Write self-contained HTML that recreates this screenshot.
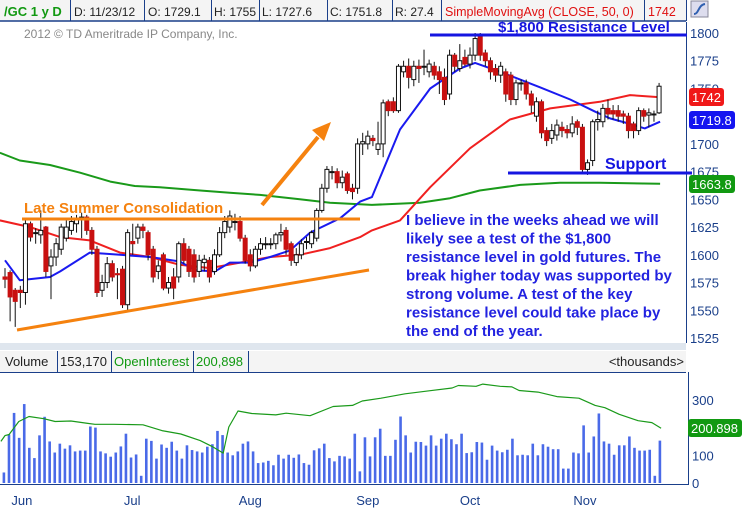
<!DOCTYPE html>
<html><head><meta charset="utf-8"><style>
body{margin:0;background:#fff;}
svg{display:block;font-family:"Liberation Sans",sans-serif;}
</style></head><body>
<svg id="c" width="744" height="512" viewBox="0 0 744 512">
<rect x="0" y="0" width="744" height="512" fill="#fff"/>
<g>
<rect x="0" y="0" width="686" height="21" fill="#f4f4f4"/>
<line x1="0" y1="21" x2="686" y2="21" stroke="#1a3f8a" stroke-width="1.5"/>
<g stroke="#1a3f8a" stroke-width="1">
<line x1="70.5" y1="0" x2="70.5" y2="21"/><line x1="144.5" y1="0" x2="144.5" y2="21"/><line x1="211.5" y1="0" x2="211.5" y2="21"/><line x1="259.5" y1="0" x2="259.5" y2="21"/><line x1="327.5" y1="0" x2="327.5" y2="21"/><line x1="392.5" y1="0" x2="392.5" y2="21"/><line x1="441.5" y1="0" x2="441.5" y2="21"/><line x1="644.5" y1="0" x2="644.5" y2="21"/><line x1="686.5" y1="0" x2="686.5" y2="21"/>
</g>
<text x="4" y="16" font-size="13" font-weight="bold" fill="#119911">/GC 1 y D</text>
<text x="74" y="16" font-size="12" fill="#222">D: 11/23/12</text>
<text x="148" y="16" font-size="12" fill="#222">O: 1729.1</text>
<text x="214" y="16" font-size="12" fill="#222">H: 1755</text>
<text x="262" y="16" font-size="12" fill="#222">L: 1727.6</text>
<text x="330" y="16" font-size="12" fill="#222">C: 1751.8</text>
<text x="395" y="16" font-size="12" fill="#222">R: 27.4</text>
<text x="445" y="16" font-size="12.5" fill="#e01010">SimpleMovingAvg (CLOSE, 50, 0)</text>
<text x="648" y="16" font-size="12.5" fill="#e01010">1742</text>
<g>
<rect x="691" y="1" width="17" height="16" fill="#dde" stroke="#889"/>
<path d="M694 14 C699 14 698 5 705 4" stroke="#3060b0" stroke-width="2" fill="none"/>
</g>
</g>
<text x="24" y="38" font-size="12" fill="#888">2012 © TD Ameritrade IP Company, Inc.</text>
<line x1="686.5" y1="22" x2="686.5" y2="343" stroke="#1a3f8a"/>
<g id="pticks"></g>
<g id="mas"></g>
<g id="candles"></g>
<g>
<line x1="22" y1="219" x2="360" y2="219" stroke="#f5820f" stroke-width="3"/>
<text x="24" y="213" font-size="15" font-weight="bold" fill="#f5820f">Late Summer Consolidation</text>
<line x1="17" y1="330" x2="369" y2="270" stroke="#f5820f" stroke-width="3"/>
<line x1="262" y1="205" x2="318" y2="137" stroke="#f5820f" stroke-width="4"/>
<polygon points="331,122 312,130 324,141" fill="#f5820f"/>
<line x1="430" y1="35" x2="687" y2="35" stroke="#1515e0" stroke-width="3"/>
<text x="498" y="32" font-size="15" font-weight="bold" fill="#1515e0">$1,800 Resistance Level</text>
<line x1="508" y1="173" x2="692" y2="173" stroke="#1515e0" stroke-width="3"/>
<text x="605" y="169" font-size="16" font-weight="bold" fill="#1515e0">Support</text>
<text font-size="15" font-weight="bold" fill="#2222e0">
<tspan x="406" y="225">I believe in the weeks ahead we will</tspan>
<tspan x="406" y="243.5">likely see a test of the $1,800</tspan>
<tspan x="406" y="262">resistance level in gold futures. The</tspan>
<tspan x="406" y="280.5">break higher today was supported by</tspan>
<tspan x="406" y="299">strong volume. A test of the key</tspan>
<tspan x="406" y="317.5">resistance level could take place by</tspan>
<tspan x="406" y="336">the end of the year.</tspan>
</text>
</g>
<g>
<rect x="689" y="88" width="35" height="18" rx="3" fill="#f01818"/>
<text x="692" y="102" font-size="13" fill="#fff">1742</text>
<rect x="689" y="111" width="46" height="18" rx="3" fill="#1414f0"/>
<text x="692" y="125" font-size="13" fill="#fff">1719.8</text>
<rect x="689" y="175" width="46" height="18" rx="3" fill="#119911"/>
<text x="692" y="189" font-size="13" fill="#fff">1663.8</text>
</g>
<rect x="0" y="343" width="686" height="7" fill="#dfe6ee"/>
<g>
<rect x="0" y="351" width="686" height="21" fill="#f4f4f4"/>
<line x1="0" y1="372.5" x2="686" y2="372.5" stroke="#1a3f8a"/>
<g stroke="#1a3f8a"><line x1="57.5" y1="351" x2="57.5" y2="372"/><line x1="111.5" y1="351" x2="111.5" y2="372"/><line x1="193.5" y1="351" x2="193.5" y2="372"/><line x1="248.5" y1="351" x2="248.5" y2="372"/></g>
<text x="5" y="366" font-size="13" fill="#222">Volume</text>
<text x="60" y="366" font-size="13" fill="#222">153,170</text>
<text x="114" y="366" font-size="13" fill="#119911">OpenInterest</text>
<text x="196" y="366" font-size="13" fill="#119911">200,898</text>
<text x="684" y="366" font-size="13" fill="#222" text-anchor="end">&lt;thousands&gt;</text>
</g>
<line x1="688.5" y1="372" x2="688.5" y2="485" stroke="#1a3f8a"/>
<line x1="0" y1="484.5" x2="688" y2="484.5" stroke="#1a3f8a"/>
<g id="vol"></g>
<rect x="688" y="419" width="54" height="18" rx="3" fill="#119911"/>
<text x="691" y="433" font-size="13" fill="#fff">200.898</text>
<g id="months"></g>
</svg>
<script>
const opens=[1580,1584,1568,1568,1566,1628,1620,1618,1625,1590,1598,1605,1615,1622,1628,1634,1634,1622,1605,1568,1575,1592,1583,1587,1555,1612,1615,1625,1620,1605,1585,1600,1570,1580,1580,1610,1605,1600,1585,1593,1595,1585,1600,1620,1625,1630,1630,1615,1600,1590,1605,1610,1610,1610,1618,1622,1610,1593,1600,1612,1610,1615,1640,1660,1675,1675,1665,1673,1660,1660,1700,1700,1705,1695,1700,1738,1738,1730,1765,1770,1758,1770,1770,1765,1770,1765,1760,1745,1780,1768,1778,1772,1780,1797,1782,1775,1768,1762,1765,1762,1740,1755,1755,1745,1725,1738,1712,1705,1708,1715,1713,1710,1720,1715,1677,1685,1720,1720,1732,1730,1730,1727,1725,1718,1712,1730,1726,1727,1728];
const closes=[1578,1562,1558,1566,1628,1616,1620,1622,1585,1598,1610,1625,1625,1630,1632,1634,1622,1605,1566,1575,1592,1580,1582,1555,1620,1610,1625,1622,1600,1580,1590,1570,1575,1570,1610,1595,1585,1580,1595,1596,1580,1600,1620,1630,1635,1630,1615,1595,1590,1605,1610,1610,1610,1618,1620,1605,1595,1600,1610,1612,1620,1640,1660,1677,1675,1665,1670,1658,1657,1700,1702,1707,1703,1700,1737,1730,1730,1770,1770,1760,1770,1768,1770,1772,1762,1758,1740,1780,1770,1775,1772,1780,1795,1780,1775,1765,1762,1770,1745,1740,1755,1755,1745,1735,1738,1710,1703,1712,1717,1712,1710,1718,1715,1677,1683,1720,1722,1732,1727,1727,1725,1725,1712,1712,1730,1725,1728,1727,1752];
const highs=[1588,1586,1570,1572,1632,1630,1624,1640,1626,1605,1615,1628,1632,1635,1636,1638,1636,1625,1608,1582,1598,1595,1588,1590,1623,1628,1628,1628,1622,1608,1595,1602,1580,1588,1612,1615,1608,1605,1600,1600,1598,1605,1625,1635,1640,1637,1635,1618,1605,1608,1615,1616,1615,1620,1628,1625,1612,1606,1614,1616,1622,1642,1664,1680,1680,1678,1676,1675,1664,1705,1710,1712,1708,1720,1740,1740,1742,1772,1775,1777,1775,1776,1785,1776,1774,1770,1768,1785,1782,1790,1785,1787,1800,1800,1785,1778,1772,1774,1768,1765,1758,1758,1758,1748,1742,1740,1715,1718,1722,1720,1717,1725,1722,1718,1686,1722,1730,1736,1740,1735,1735,1730,1728,1720,1733,1732,1732,1730,1755];
const lows=[1570,1540,1535,1552,1555,1612,1610,1610,1580,1560,1590,1600,1612,1618,1620,1615,1618,1600,1562,1562,1570,1576,1560,1552,1550,1600,1610,1615,1595,1575,1578,1568,1565,1560,1575,1592,1580,1575,1580,1585,1575,1582,1598,1615,1620,1622,1612,1592,1585,1588,1600,1605,1605,1605,1612,1600,1590,1590,1596,1605,1606,1612,1638,1656,1668,1660,1660,1655,1650,1655,1690,1695,1698,1690,1688,1725,1728,1728,1760,1750,1752,1755,1762,1760,1758,1745,1735,1740,1765,1765,1770,1768,1775,1775,1770,1758,1756,1755,1738,1735,1735,1748,1740,1728,1720,1705,1698,1700,1703,1706,1705,1706,1708,1675,1672,1680,1712,1715,1722,1722,1720,1718,1705,1705,1708,1720,1715,1720,1727];
const volumes=[38,175,253,163,285,127,90,172,239,150,110,142,124,136,114,117,117,204,200,114,107,95,110,132,178,92,103,26,160,152,88,139,127,149,117,88,136,119,114,110,131,140,188,173,110,100,114,142,150,114,72,74,80,64,102,88,102,91,103,72,66,118,125,142,90,78,98,96,88,178,42,165,96,165,196,98,98,156,240,172,110,149,148,135,172,135,160,178,158,140,178,108,111,148,146,84,135,117,111,120,160,100,102,100,142,100,140,131,122,122,52,52,110,107,208,110,168,251,150,142,102,136,136,168,127,117,117,120,26,153];
const sma20Idx=[0,2.9,8.8,10.8,16.6,22.5,28.4,34.2,37.2,41.1,44,48,51.9,55.8,59.7,65.6,69.5,71.8,77.3,83.2,89,92,96.9,104.7,110.6,115.5,118.4,122.3,125.2,128.2];
const sma20=[1595,1577,1580,1585,1602,1600,1598,1594,1586,1585,1593,1593,1598,1604,1620,1633,1648,1652,1713,1750,1768,1773,1765,1751,1740,1729,1723,1718,1714,1720];
const sma50Idx=[-1,4.9,10.8,16.6,22.5,28.4,34.2,40.1,46,51.9,57.7,63.6,69.5,71.8,77.3,83.2,91,98.8,106.7,116.4,122.3,128.2];
const sma50=[1631,1625,1616,1613,1602,1598,1591,1588,1593,1598,1600,1606,1616,1622,1631,1661,1696,1722,1732,1738,1744,1742];
const sma200Idx=[-1,2.9,8.8,14.7,20.6,25.4,30.3,38.2,44,49.9,57.7,63.6,71.8,81.2,87.1,92.9,100.8,108.6,116.4,128.2];
const sma200=[1692,1685,1681,1674,1666,1662,1661,1658,1656,1654,1650,1647,1645,1647,1651,1658,1663,1665,1665,1664];
const oiIdx=[-0.8,0,0.8,2.7,4.7,7.6,9.8,12.9,16.2,17.6,21.3,27,30.7,34.4,38.2,40.5,42.7,43.8,45.6,48.3,53,55,59.7,64.2,68,69.9,73.6,78.3,83,87.5,88.7,92.2,93.5,96.9,99.2,100.6,104.3,108,112.3,115.5,117.4,120.2,123.9,126.6,128.4];
const openInterest=[150,171,175,222,240,232,222,224,215,212,212,210,189,177,153,132,108,202,260,251,246,252,243,276,280,296,306,322,333,343,352,349,357,349,347,334,328,312,306,280,272,248,225,218,198];
const priceTicks=[1800,1775,1750,1725,1700,1675,1650,1625,1600,1575,1550,1525];
const volTicks=[0,100,300];
const months=["Jun","Jul","Aug","Sep","Oct","Nov"];
const monthIdx=[3.3,24.9,48,71,91,113.5];

const NS="http://www.w3.org/2000/svg";
const xOf=i=>5+i*5.11;
const yP=p=>33+(1800-p)*1.109;
const yV=v=>483-v*0.277;
function mk(tag,attrs,parent){const e=document.createElementNS(NS,tag);for(const k in attrs)e.setAttribute(k,attrs[k]);parent.appendChild(e);return e;}
const G=id=>document.getElementById(id);

priceTicks.forEach(t=>{
  const tx=mk('text',{x:690,y:yP(t)+5,'font-size':13,fill:'#1a3f8a'},G('pticks'));
  
  
  tx.textContent=t;
});
volTicks.forEach(t=>{
  const tx=mk('text',{x:692,y:yV(t)+5,'font-size':13,fill:'#1a3f8a'},G('vol'));
  
  
  tx.textContent=t;
});
months.forEach((m,k)=>{
  const tx=mk('text',{x:xOf(monthIdx[k]),y:505,'font-size':13,fill:'#1a3f8a','text-anchor':'middle'},G('months'));
  
  
  tx.textContent=m;
});
function line(idx,vals,col,w,parent,name,yf){
  const d=idx.map((i,k)=>(k?'L':'M')+xOf(i).toFixed(1)+' '+yf(vals[k]).toFixed(1)).join(' ');
  const p=mk('path',{d:d,stroke:col,'stroke-width':w,fill:'none','stroke-linejoin':'round'},parent);
  
  
}
line(sma200Idx,sma200,'#1a9a1a',2,G('mas'),'sma200-line',yP);
line(sma50Idx,sma50,'#f02020',2,G('mas'),'sma50-line',yP);
line(sma20Idx,sma20,'#1a1af0',2,G('mas'),'sma20-line',yP);
closes.forEach((c,i)=>{
  const o=opens[i],x=xOf(i),up=c>=o;
  const w=mk('line',{x1:x,x2:x,y1:yP(highs[i]),y2:yP(lows[i]),stroke:'#111','stroke-width':1},G('candles'));
  
  
  const top=yP(Math.max(o,c)),h=Math.max(1,Math.abs(yP(o)-yP(c)));
  const b=mk('rect',{x:x-2,y:top,width:4,height:h,fill:up?'#fff':'#c81010',stroke:up?'#111':'#c81010','stroke-width':1},G('candles'));
  
  
});
volumes.forEach((v,i)=>{
  const x=3.8+i*(656/(volumes.length-1));
  const r=mk('rect',{x:x-1.2,y:yV(v),width:2.6,height:483-yV(v),fill:'#4a6ae8'},G('vol'));
  
  
});
line(oiIdx,openInterest,'#1a9a1a',1.2,G('vol'),'open-interest-line',yV);
</script>
</body></html>
